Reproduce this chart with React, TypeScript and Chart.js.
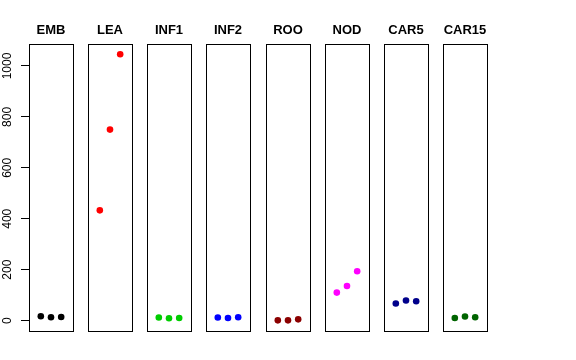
import React, { useEffect, useRef } from "react";
import { Chart, registerables } from "chart.js";

Chart.register(...registerables);

const categories = ["EMB", "LEA", "INF1", "INF2", "ROO", "NOD", "CAR5", "CAR15"];
const replicates = [1, 2, 3];
const emb = [17, 13, 14];
const lea = [433, 750, 1046];
const inf1 = [12, 9, 10];
const inf2 = [12, 10, 13];
const roo = [1, 1, 5];
const nod = [110, 136, 194];
const car5 = [67, 79, 76];
const car15 = [10, 16, 13];
const yTicks = [0, 200, 400, 600, 800, 1000];

const seriesValues = [emb, lea, inf1, inf2, roo, nod, car5, car15];
const colors = ["#000000", "#FF0000", "#00CD00", "#0000FF", "#8B0000", "#FF00FF", "#00008B", "#006400"];

const FONT = "'Liberation Sans', Arial, Helvetica, sans-serif";
const PANEL_W = 44;
const PAD = 8;
const AXIS_W = 29;
const panelLeft = (k: number) => 29 + Math.round(59.14 * k);

const allVals = seriesValues.flat();
const dMin = Math.min(...allVals);
const dMax = Math.max(...allVals);
const yMin = dMin - 0.04 * (dMax - dMin);
const yMax = dMax + 0.04 * (dMax - dMin);
const xMin = 0 - 0.04 * 4;
const xMax = 4 + 0.04 * 4;

const boxPlugin = {
  id: "panelBox",
  beforeDatasetsDraw(chart: any) {
    const { ctx, chartArea } = chart;
    const { left, top, right, bottom } = chartArea;
    ctx.save();
    ctx.strokeStyle = "#000";
    ctx.lineWidth = 1;
    ctx.strokeRect(Math.round(left) + 0.5, Math.round(top) + 0.5, Math.round(right - left), Math.round(bottom - top));
    ctx.restore();
  },
};

export default function App() {
  const refs = useRef<(HTMLCanvasElement | null)[]>([]);

  useEffect(() => {
    const charts: Chart[] = [];
    categories.forEach((cat, k) => {
      const canvas = refs.current[k];
      if (!canvas) return;
      const first = k === 0;
      const chart = new Chart(canvas, {
        type: "scatter",
        data: {
          datasets: [
            {
              label: cat,
              data: replicates.map((r, i) => ({ x: r, y: seriesValues[k][i] })),
              backgroundColor: colors[k],
              borderColor: colors[k],
              borderWidth: 0,
              pointRadius: 3.3,
              pointHoverRadius: 3.3,
            },
          ],
        },
        options: {
          responsive: false,
          animation: false,
          devicePixelRatio: 1,
          layout: { padding: { left: first ? 0 : PAD, right: PAD, top: 0, bottom: 29 } },
          plugins: {
            legend: { display: false },
            tooltip: { enabled: false },
            title: {
              display: true,
              text: cat,
              fullSize: !first,
              color: "#000",
              font: { family: FONT, size: 13, weight: "bold", lineHeight: 1.2 },
              padding: { top: 23, bottom: 5 },
            },
          },
          scales: {
            x: { type: "linear", min: xMin, max: xMax, display: false },
            y: {
              type: "linear",
              min: yMin,
              max: yMax,
              display: first,
              border: { display: false },
              grid: { display: true, drawOnChartArea: false, drawTicks: true, tickLength: 8, color: "#000", lineWidth: 1 },
              afterBuildTicks: (scale: any) => {
                scale.ticks = yTicks.map((v) => ({ value: v }));
              },
              afterFit: (scale: any) => {
                scale.width = first ? AXIS_W : 0;
              },
              ticks: {
                color: "#000",
                font: { family: FONT, size: 12 },
                padding: 0,
                minRotation: 90,
                maxRotation: 90,
                crossAlign: "center",
                autoSkip: false,
                callback: (v: any) => String(v),
              },
            },
          },
        },
        plugins: [boxPlugin],
      });
      charts.push(chart);
    });
    return () => charts.forEach((c) => c.destroy());
  }, []);

  return (
    <div style={{ position: "fixed", left: 0, top: 0, width: 576, height: 360, background: "#fff" }}>
      {categories.map((cat, k) => {
        const first = k === 0;
        const left = first ? 0 : panelLeft(k) - PAD;
        const width = first ? AXIS_W + PANEL_W + PAD : PANEL_W + 2 * PAD;
        return (
          <canvas
            key={cat}
            ref={(el) => {
              refs.current[k] = el;
            }}
            width={width}
            height={360}
            style={{ position: "absolute", left, top: 0, width, height: 360 }}
          />
        );
      })}
    </div>
  );
}
